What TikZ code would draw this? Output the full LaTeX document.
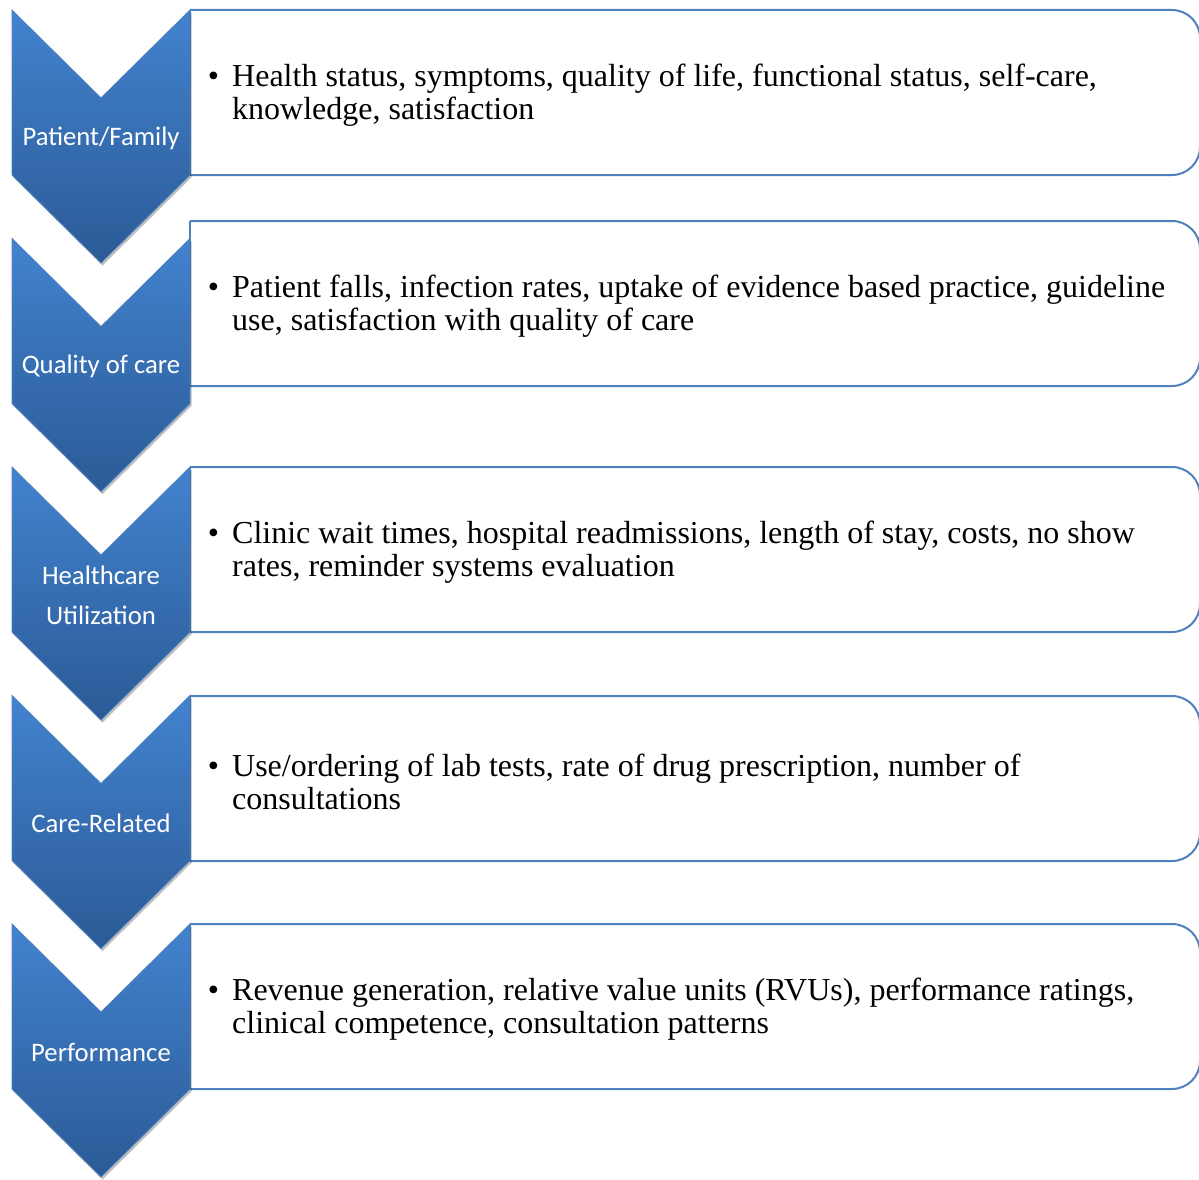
\documentclass[tikz,border=0pt]{standalone}
\usepackage{fontspec}
\setmainfont{Liberation Serif}
\newfontfamily\labelfont{Carlito}
\usepackage{tikz}
\usetikzlibrary{shadows,positioning}
\definecolor{stageTop}{RGB}{66,131,207}
\definecolor{stageBot}{RGB}{43,90,150}
\definecolor{stageEdge}{RGB}{79,129,189}
\tikzset{
  stage/.style={top color=stageTop, bottom color=stageBot, draw=stageEdge, line width=0.8pt,
    drop shadow={shadow xshift=1.5pt, shadow yshift=-2.5pt, opacity=0.25, fill=black}},
  itembox/.style={draw=stageEdge, line width=2pt, fill=white},
  stagelabel/.style={text=white, font=\labelfont\fontsize{26.7}{40}\selectfont, align=center, inner sep=0pt},
  itemtext/.style={font=\fontsize{32}{33}\selectfont, align=left, inner sep=0pt, anchor=west}
}
\newcommand{\bul}{\llap{\textbullet\hspace{13pt}}}
% #1 name, #2 chevron top, #3 box top, #4 label, #5 text
\newcommand{\DrawStage}[5]{%
  \draw[itembox, rounded corners=28pt] (190,#3) -- (1200,#3) -- (1200,{#3+165}) -- (190,{#3+165});
  \draw[itembox, line cap=square] (190,#3) -- (190,{#3+165});
  \draw[stage] (12,#2) -- (101,{#2+88}) -- (190,#2) -- (190,{#2+165})
    -- (101,{#2+253}) -- (12,{#2+165}) -- cycle;
  \node[stagelabel] (lab#1) at (101,{#2+128}) {#4};
  \node[itemtext] (txt#1) at (232,{#3+85.5}) {\bul #5};
}

\begin{document}
\begin{tikzpicture}[x=1pt, y=-1pt]
  \useasboundingbox (0,0) rectangle (1199,1180);
  % stages, top to bottom
  \DrawStage{1}{10}{10}{Patient/Family}
    {Health status, symptoms, quality of life, functional status, self-care,\\ knowledge, satisfaction}
  \DrawStage{2}{238.5}{221}{Quality of care}
    {Patient falls, infection rates, uptake of evidence based practice, guideline\\ use, satisfaction with quality of care}
  \DrawStage{3}{467}{467}{Healthcare\\ Utilization}
    {Clinic wait times, hospital readmissions, length of stay, costs, no show\\ rates, reminder systems evaluation}
  \DrawStage{4}{695.5}{696}{Care-Related}
    {Use/ordering of lab tests, rate of drug prescription, number of\\ consultations}
  \DrawStage{5}{924}{924}{Performance}
    {Revenue generation, relative value units (RVUs), performance ratings,\\ clinical competence, consultation patterns}
\end{tikzpicture}
\end{document}
